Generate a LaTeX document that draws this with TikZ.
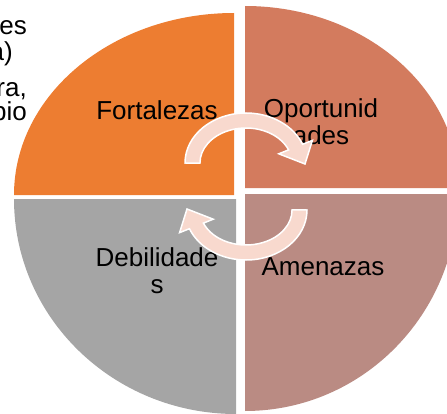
\documentclass[tikz,border=0pt]{standalone}
\usepackage{xcolor}
\usepackage{tikz}
\usepackage{fontspec}
\setmainfont{Liberation Sans}
\usetikzlibrary{calc}
\usetikzlibrary{positioning}
\definecolor{fortcolor}{RGB}{237,125,49}
\definecolor{oppcolor}{RGB}{211,123,94}
\definecolor{debcolor}{RGB}{165,165,165}
\definecolor{amecolor}{RGB}{186,139,131}
\definecolor{arrowpink}{RGB}{248,217,206}
\tikzstyle{quadtext} = [font=\fontsize{26}{27}\selectfont, align=center, inner sep=0pt]
\tikzstyle{fragtext} = [font=\fontsize{26}{27}\selectfont, inner sep=0pt]
\tikzstyle{cyclearrow} = [fill=arrowpink, draw=white, line width=1.5pt]
\tikzset{turnarrow/.pic={
  \filldraw[cyclearrow] (-61,0) arc[start angle=180, end angle=22, x radius=61, y radius=50]
    -- (66.4,22.6) -- (59,-1) -- (32.8,9.2) -- (42.6,13.1)
    arc[start angle=22, end angle=180, x radius=46, y radius=35] -- cycle;
}}

\begin{document}
\begin{tikzpicture}[x=1pt, y=1pt]
\useasboundingbox (0,0) rectangle (447,413);
\clip (0,0) rectangle (447,413);

% text cut off at the left edge
\node[fragtext, anchor=base east] (fraga) at (27,378) {es};
\node[fragtext, anchor=base east] (fragb) at (13,352) {a)};
\node[fragtext, anchor=base east] (fragc) at (27,316) {ra,};
\node[fragtext, anchor=base east] (fragd) at (27,292) {bio};

% four quarters
\fill[fortcolor] (234,218) -- ++(-220,0) arc[start angle=180, end angle=90, x radius=220, y radius=182] -- cycle;
\fill[oppcolor] (245,225) -- ++(214,0) arc[start angle=0, end angle=90, x radius=214, y radius=182] -- cycle;
\fill[debcolor] (236,214) -- ++(-222,0) arc[start angle=180, end angle=270, x radius=222, y radius=215] -- cycle;
\fill[amecolor] (245,219) -- ++(213,0) arc[start angle=0, end angle=-90, x radius=213, y radius=217] -- cycle;

\node[quadtext, anchor=base] (fort) at (157,293) {Fortalezas};
\node[quadtext] (opor) at (321,291) {Oportunid\\ades};
\node[quadtext] (debi) at (157,142) {Debilidade\\s};
\node[quadtext, anchor=base] (amen) at (323,138) {Amenazas};

% cycle arrows
\pic at (246,250) {turnarrow};
\pic[rotate=180] at (246,203) {turnarrow};
\end{tikzpicture}
\end{document}
